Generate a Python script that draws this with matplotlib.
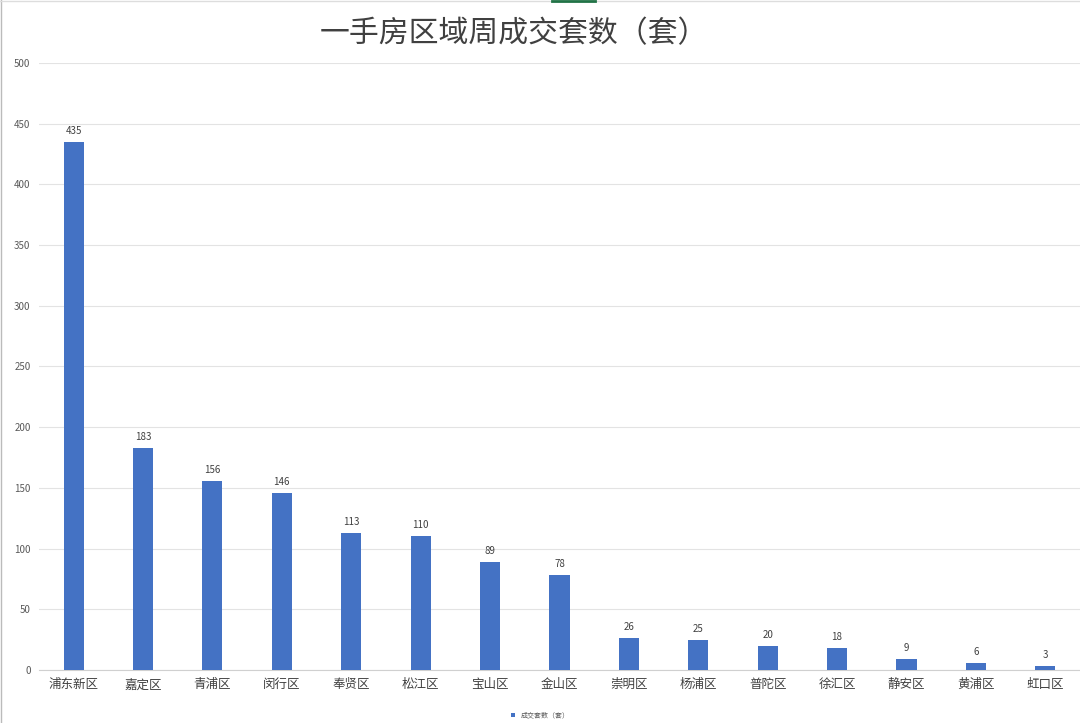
import matplotlib.pyplot as plt

plt.rcParams['font.family'] = ['Noto Sans CJK SC', 'DejaVu Sans']

districts = ['浦东新区', '嘉定区', '青浦区', '闵行区', '奉贤区', '松江区', '宝山区', '金山区',
             '崇明区', '杨浦区', '普陀区', '徐汇区', '静安区', '黄浦区', '虹口区']
deals = [435, 183, 156, 146, 113, 110, 89, 78, 26, 25, 20, 18, 9, 6, 3]
yticks = [0, 50, 100, 150, 200, 250, 300, 350, 400, 450, 500]

fig = plt.figure(figsize=(10.8, 7.23), dpi=100, facecolor='white')
ax = fig.add_axes([0.036, 0.0733, 0.964, 0.8396])

x = range(len(districts))
bars = ax.bar(x, deals, width=0.29, color='#4472C4', label='成交套数（套）', zorder=3)

for xi, v in zip(x, deals):
    ax.text(xi, v + 5, str(v), ha='center', va='bottom', fontsize=7, color='#404040')

ax.set_xlim(-0.5, len(districts) - 0.5)
ax.set_ylim(0, 500)
ax.set_yticks(yticks)
ax.set_yticklabels([str(t) for t in yticks], fontsize=7, color='#595959')
ax.set_xticks(list(x))
ax.set_xticklabels(districts, fontsize=9, color='#404040')
ax.tick_params(axis='both', length=0, pad=6)
ax.tick_params(axis='y', pad=6)

ax.grid(axis='y', color='#E3E3E3', linewidth=0.8, zorder=0)
for s in ['top', 'right', 'left']:
    ax.spines[s].set_visible(False)
ax.spines['bottom'].set_color('#D0D0D0')

fig.text(0.4755, 0.953, '一手房区域周成交套数（套）', ha='center', va='center',
         fontsize=21.5, color='#404040')

fig.legend(loc='lower center', bbox_to_anchor=(0.5, -0.004), frameon=False,
           fontsize=5, handlelength=0.6, handleheight=0.6, labelcolor='#595959')

# frame lines on the edge of the screenshot
fig.add_artist(plt.Line2D([0.001, 0.001], [0, 1], color='#BBBBBB', linewidth=1))
fig.add_artist(plt.Line2D([0, 1], [0.999, 0.999], color='#DDDDDD', linewidth=1))
fig.add_artist(plt.Line2D([552 / 1080, 595 / 1080], [0.998, 0.998], color='#217346', linewidth=2))

fig.savefig('out.png', dpi=100, facecolor='white')
